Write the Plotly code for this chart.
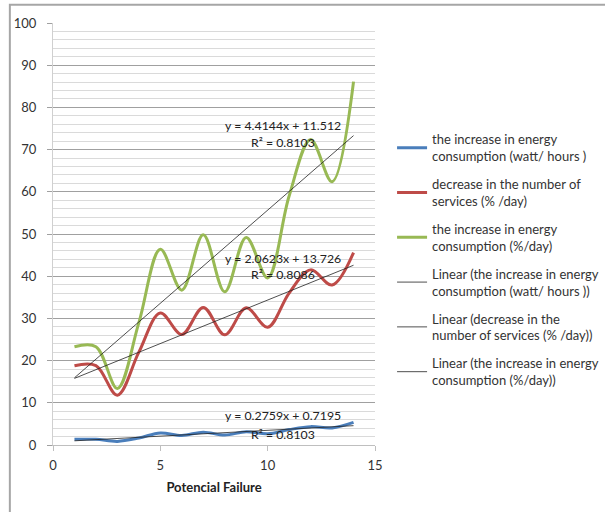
import plotly.graph_objects as go

x_vals = list(range(1, 15))
energy_wh = [1.35, 1.35, 0.85, 1.65, 2.85, 2.25, 3.05, 2.35, 3.15, 2.65, 3.65, 4.35, 4.05, 5.35]
services_decrease = [18.8, 18.8, 11.8, 22.0, 31.3, 26.2, 32.6, 26.1, 32.5, 27.9, 36.0, 41.5, 37.9, 45.6]
energy_pct = [23.3, 23.3, 13.4, 29.0, 46.4, 36.7, 49.8, 36.3, 49.2, 39.6, 59.0, 72.4, 62.4, 86.1]

series_names = [
    "the increase in energy<br>consumption (watt/ hours )",
    "decrease in the number of<br>services (% /day)",
    "the increase in energy<br>consumption (%/day)",
]
trend_names = [
    "Linear (the increase in energy<br>consumption (watt/ hours ))",
    "Linear (decrease in the<br>number of services (% /day))",
    "Linear (the increase in energy<br>consumption (%/day))",
]
trend_slope = [0.2759, 2.0623, 4.4144]
trend_intercept = [0.7195, 13.726, 11.512]
trend_r2 = ["0.8103", "0.8086", "0.8103"]
eq_label_x = [10.7, 10.7, 10.7]
eq_label_y = [6.9, 44.3, 75.6]
r2_label_y = [2.6, 40.3, 71.6]

colors = ["#4A7EBB", "#BE4B48", "#98B954"]
FONT = "Lato"

fig = go.Figure()
for i, (name, ys, c) in enumerate(zip(series_names, [energy_wh, services_decrease, energy_pct], colors)):
    fig.add_trace(go.Scatter(x=x_vals, y=ys, mode="lines", name=name, legendgroup=f"s{i}",
                             line=dict(color=c, width=3, shape="spline", smoothing=1)))

x_ends = [x_vals[0], x_vals[-1]]
for i, (name, m, b) in enumerate(zip(trend_names, trend_slope, trend_intercept)):
    fig.add_trace(go.Scatter(x=x_ends, y=[m * xv + b for xv in x_ends], mode="lines", name=name,
                             legendgroup=f"t{i}",
                             line=dict(color="#222222", width=0.8)))

annotations = []
for m, b, r2, ax, ay, ry in zip(trend_slope, trend_intercept, trend_r2, eq_label_x, eq_label_y, r2_label_y):
    annotations.append(dict(x=ax, y=ay, xref="x", yref="y", showarrow=False,
                            text=f"y = {m:.4f}x + {b:g}",
                            font=dict(family=FONT, size=12.3, color="#222222")))
    annotations.append(dict(x=ax, y=ry, xref="x", yref="y", showarrow=False,
                            text=f"R² = {r2}",
                            font=dict(family=FONT, size=12.3, color="#222222")))

fig.update_layout(
    width=605, height=512,
    margin=dict(l=53, r=230, t=23, b=67, autoexpand=False),
    paper_bgcolor="white", plot_bgcolor="white",
    font=dict(family=FONT, size=13, color="#333333"),
    annotations=annotations,
    showlegend=True,
    legend=dict(x=1.053, y=0.760, xanchor="left", yanchor="top",
                font=dict(family=FONT, size=13, color="#333333"),
                tracegroupgap=8, itemwidth=30, bgcolor="rgba(0,0,0,0)"),
    shapes=[dict(type="rect", xref="paper", yref="paper", x0=-0.134, y0=-1, x1=2, y1=1.043,
                 line=dict(color="#A6A6A6", width=2), fillcolor="rgba(0,0,0,0)", layer="below")],
)
fig.update_xaxes(range=[0, 15], dtick=5, tick0=0, showgrid=False, zeroline=False,
                 showline=True, linecolor="#BFBFBF", linewidth=1,
                 ticks="outside", ticklen=5, tickcolor="#BFBFBF", ticklabelstandoff=3,
                 tickfont=dict(family=FONT, size=13, color="#333333"),
                 title=dict(text="<b>Potencial Failure</b>", font=dict(family=FONT, size=13, color="#222222"), standoff=11))
fig.update_yaxes(range=[0, 100], dtick=10, tick0=0, showgrid=True, gridcolor="#A0A0A0", gridwidth=1,
                 zeroline=False, showline=True, linecolor="#D0D0D0", linewidth=1,
                 ticks="outside", ticklen=5, tickcolor="#A0A0A0", ticklabelstandoff=8,
                 tickfont=dict(family=FONT, size=13, color="#333333"),
                 minor=dict(dtick=2, showgrid=True, gridcolor="#DADADA", gridwidth=1))

fig.write_html("out.html")
